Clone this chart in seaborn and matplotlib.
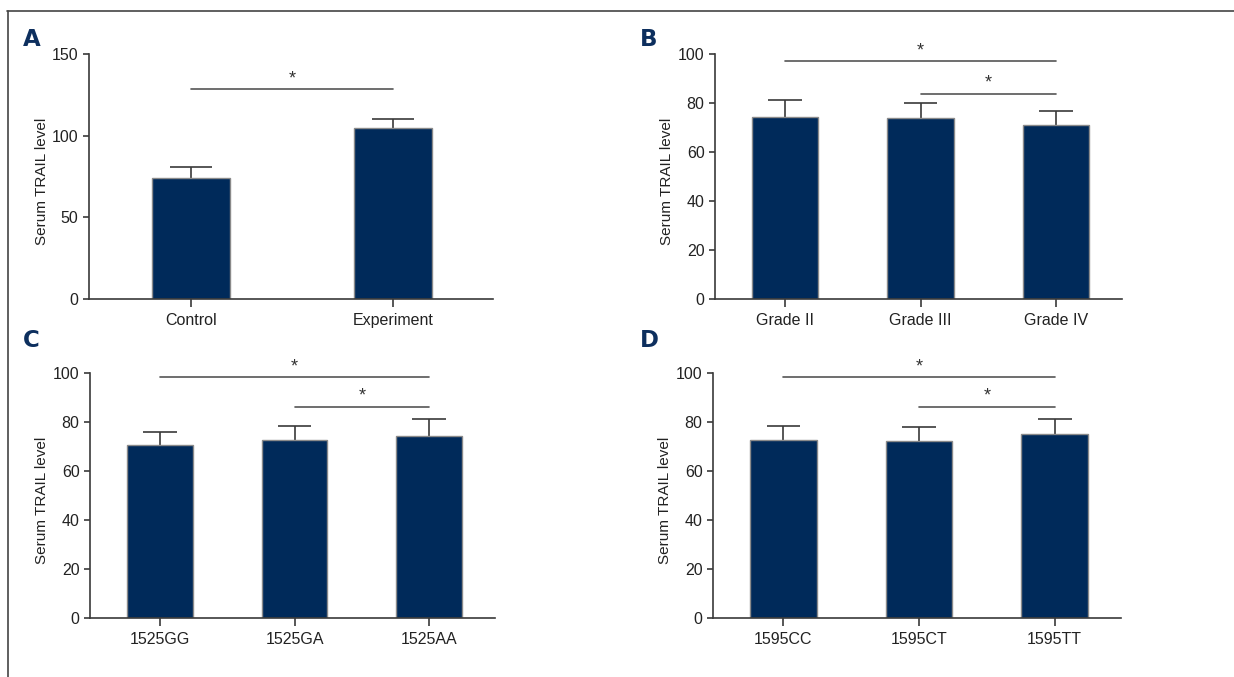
import matplotlib
matplotlib.use("Agg")
import matplotlib.pyplot as plt
import seaborn as sns
from matplotlib.lines import Line2D

sns.set_style("ticks")
plt.rcParams['font.family'] = ['Liberation Sans', 'DejaVu Sans']

# data (mean and upper SD)
grp_a = ['Control', 'Experiment']
mean_a = [74.1, 104.7]
sd_a = [6.7, 5.5]

grp_b = ['Grade II', 'Grade III', 'Grade IV']
mean_b = [74.4, 73.7, 71.0]
sd_b = [6.8, 6.2, 5.9]

grp_c = ['1525GG', '1525GA', '1525AA']
mean_c = [70.7, 72.5, 74.4]
sd_c = [5.4, 5.7, 6.9]

grp_d = ['1595CC', '1595CT', '1595TT']
mean_d = [72.8, 72.3, 75.2]
sd_d = [5.7, 5.8, 6.1]

# significance brackets: (from group, to group, height)
sig_a = [(0, 1, 128.6)]
sig_b = [(0, 2, 97.0), (1, 2, 83.8)]
sig_c = [(0, 2, 98.2), (1, 2, 86.2)]
sig_d = [(0, 2, 98.2), (1, 2, 86.2)]

bar_col = '#002a5a'
axis_col = '#3a3a3a'
letter_col = '#0d2f5e'

fig = plt.figure(figsize=(12.34, 6.77), dpi=100)

W, H = 1234, 677


def make_ax(left, right, y0, ytop):
    return fig.add_axes([left / W, (H - y0) / H, (right - left) / W, (y0 - ytop) / H])


panels = [
    (make_ax(89, 493, 299, 54), grp_a, mean_a, sd_a, sig_a, 150, [0, 50, 100, 150], 0.39, 0.104, 'A', (23, 46)),
    (make_ax(715, 1122, 299, 54), grp_b, mean_b, sd_b, sig_b, 100, [0, 20, 40, 60, 80, 100], 0.49, 0.125, 'B', (640, 46)),
    (make_ax(90, 495, 618, 373), grp_c, mean_c, sd_c, sig_c, 100, [0, 20, 40, 60, 80, 100], 0.49, 0.125, 'C', (23, 347)),
    (make_ax(713, 1121, 618, 373), grp_d, mean_d, sd_d, sig_d, 100, [0, 20, 40, 60, 80, 100], 0.49, 0.125, 'D', (640, 347)),
]

for ax, grp, mean, sd, sig, ymax, yt, bw, cap, letter, lpos in panels:
    n = len(grp)
    tops = [m + s for m, s in zip(mean, sd)]
    # one-sided (upward) SD bars
    ax.vlines(range(n), mean, tops, color=axis_col, lw=1.2, zorder=1)
    ax.hlines(tops, [i - cap for i in range(n)], [i + cap for i in range(n)],
              color=axis_col, lw=1.2, zorder=1)
    sns.barplot(x=grp, y=mean, color=bar_col, width=bw, edgecolor='#8a8a8a',
                linewidth=1.0, saturation=1, errorbar=None, ax=ax, zorder=2)
    ax.set_ylim(0, ymax)
    ax.set_yticks(yt)
    if n == 2:
        ax.set_xlim(-0.505, 1.495)
    else:
        ax.set_xlim(-0.52, 2.49)
    ax.set_ylabel('Serum TRAIL level', fontsize=11, color='#222222')
    ax.yaxis.set_label_coords(-0.1, 0.48)
    ax.set_xlabel('')
    sns.despine(ax=ax)
    for s in ['left', 'bottom']:
        ax.spines[s].set_color(axis_col)
        ax.spines[s].set_linewidth(1.2)
    ax.tick_params(axis='y', length=4.5, width=1.2, color=axis_col, labelsize=11.5,
                   labelcolor='#222222', pad=3)
    ax.tick_params(axis='x', length=6, width=1.2, color=axis_col, labelsize=11.5,
                   labelcolor='#222222', pad=4)
    star_off = 6 if ymax == 150 else 4.3
    for a, b, h in sig:
        ax.plot([a, b], [h, h], color='#555555', lw=1.2, clip_on=False)
        ax.text((a + b) / 2, h + star_off, '*', ha='center', va='center',
                fontsize=13, color='#333333')
    fig.text(lpos[0] / W, 1 - lpos[1] / H, letter, fontsize=16.5, fontweight='bold',
             color=letter_col, family='DejaVu Sans', ha='left', va='baseline')

# outer frame (top and left edges)
fig.add_artist(Line2D([7 / W, 1], [1 - 11 / H, 1 - 11 / H], color='#444444', lw=1.2))
fig.add_artist(Line2D([8 / W, 8 / W], [0, 1 - 11 / H], color='#444444', lw=1.2))

fig.savefig('out.png', dpi=100)
